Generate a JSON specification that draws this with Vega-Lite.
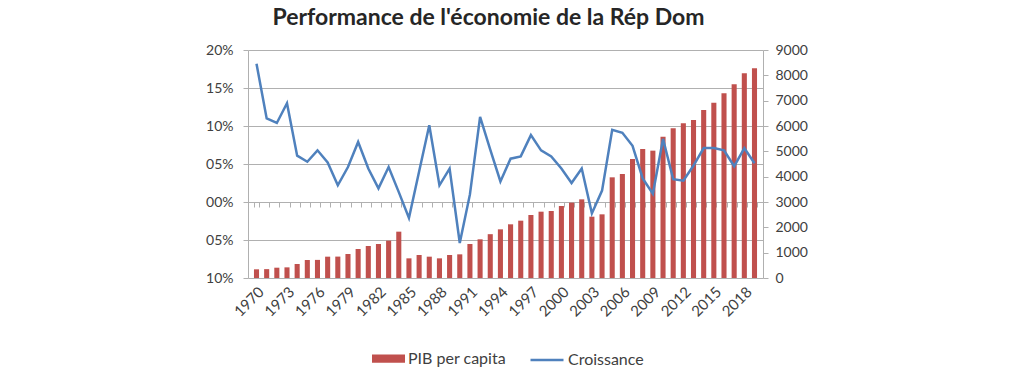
{
  "$schema": "https://vega.github.io/schema/vega-lite/v6.json",
  "width": 515,
  "height": 228,
  "autosize": {"type": "none"},
  "padding": {"left": 248, "top": 50, "right": 261, "bottom": 107},
  "background": "white",
  "title": {
    "text": "Performance de l'économie de la Rép Dom",
    "font": "Lato",
    "fontSize": 23,
    "fontWeight": "bold",
    "color": "#262626",
    "anchor": "middle",
    "dx": -17,
    "offset": 13
  },
  "config": {
    "view": {"stroke": null},
    "font": "Lato",
    "axis": {"labelFont": "Lato", "labelColor": "#404040", "labelFontSize": 14, "domainColor": "#b0b0b0", "tickColor": "#b0b0b0"}
  },
  "data": {
    "values": [
      {"year": 1970, "pib": 343, "growth": 18.2},
      {"year": 1971, "pib": 350, "growth": 11.0},
      {"year": 1972, "pib": 407, "growth": 10.4},
      {"year": 1973, "pib": 420, "growth": 13.0},
      {"year": 1974, "pib": 553, "growth": 6.1},
      {"year": 1975, "pib": 710, "growth": 5.3},
      {"year": 1976, "pib": 715, "growth": 6.8},
      {"year": 1977, "pib": 842, "growth": 5.2},
      {"year": 1978, "pib": 845, "growth": 2.2},
      {"year": 1979, "pib": 947, "growth": 4.6},
      {"year": 1980, "pib": 1145, "growth": 7.9},
      {"year": 1981, "pib": 1263, "growth": 4.4},
      {"year": 1982, "pib": 1342, "growth": 1.8},
      {"year": 1983, "pib": 1474, "growth": 4.6},
      {"year": 1984, "pib": 1829, "growth": 1.3},
      {"year": 1985, "pib": 776, "growth": -2.1},
      {"year": 1986, "pib": 908, "growth": 4.0},
      {"year": 1987, "pib": 842, "growth": 10.1},
      {"year": 1988, "pib": 776, "growth": 2.2},
      {"year": 1989, "pib": 908, "growth": 4.4},
      {"year": 1990, "pib": 934, "growth": -5.4},
      {"year": 1991, "pib": 1342, "growth": 1.0},
      {"year": 1992, "pib": 1527, "growth": 11.2},
      {"year": 1993, "pib": 1730, "growth": 6.9},
      {"year": 1994, "pib": 1921, "growth": 2.7},
      {"year": 1995, "pib": 2119, "growth": 5.7},
      {"year": 1996, "pib": 2263, "growth": 6.0},
      {"year": 1997, "pib": 2487, "growth": 8.8},
      {"year": 1998, "pib": 2618, "growth": 6.8},
      {"year": 1999, "pib": 2645, "growth": 6.0},
      {"year": 2000, "pib": 2842, "growth": 4.4},
      {"year": 2001, "pib": 2974, "growth": 2.5},
      {"year": 2002, "pib": 3105, "growth": 4.4},
      {"year": 2003, "pib": 2421, "growth": -1.5},
      {"year": 2004, "pib": 2513, "growth": 1.5},
      {"year": 2005, "pib": 3974, "growth": 9.5},
      {"year": 2006, "pib": 4105, "growth": 9.1},
      {"year": 2007, "pib": 4698, "growth": 7.4},
      {"year": 2008, "pib": 5093, "growth": 3.1},
      {"year": 2009, "pib": 5027, "growth": 1.1},
      {"year": 2010, "pib": 5579, "growth": 8.3},
      {"year": 2011, "pib": 5908, "growth": 3.0},
      {"year": 2012, "pib": 6106, "growth": 2.8},
      {"year": 2013, "pib": 6237, "growth": 4.8},
      {"year": 2014, "pib": 6632, "growth": 7.1},
      {"year": 2015, "pib": 6921, "growth": 7.1},
      {"year": 2016, "pib": 7292, "growth": 6.8},
      {"year": 2017, "pib": 7647, "growth": 4.7},
      {"year": 2018, "pib": 8081, "growth": 7.1},
      {"year": 2019, "pib": 8279, "growth": 5.1}
    ]
  },
  "layer": [
    {
      "mark": {"type": "bar"},
      "encoding": {
        "x": {
          "field": "year",
          "type": "ordinal",
          "scale": {"paddingInner": 0.5, "paddingOuter": 0.587},
          "axis": {
            "orient": "bottom",
            "values": [1970, 1973, 1976, 1979, 1982, 1985, 1988, 1991, 1994, 1997, 2000, 2003, 2006, 2009, 2012, 2015, 2018],
            "labelAngle": -45,
            "labelFontSize": 15,
            "ticks": false,
            "domain": false,
            "title": null,
            "labelPadding": 6
          }
        },
        "y": {
          "field": "pib",
          "type": "quantitative",
          "scale": {"domain": [0, 9000], "nice": false},
          "axis": {
            "orient": "right",
            "title": null,
            "grid": false,
            "domain": true,
            "ticks": true,
            "tickSize": 5,
            "values": [0, 1000, 2000, 3000, 4000, 5000, 6000, 7000, 8000, 9000],
            "format": "d",
            "labelPadding": 7
          }
        },
        "fill": {
          "datum": "PIB per capita",
          "scale": {"domain": ["PIB per capita"], "range": ["#C0504D"]},
          "legend": {
            "title": null,
            "orient": "none",
            "legendX": 124,
            "legendY": 292,
            "symbolType": "M-1,-0.25H1V0.25H-1Z",
            "symbolSize": 1089,
            "symbolStrokeWidth": 0,
            "labelFontSize": 16,
            "labelColor": "#404040",
            "labelOffset": 3
          }
        }
      }
    },
    {
      "mark": {"type": "line", "strokeWidth": 2.5},
      "encoding": {
        "x": {
          "field": "year",
          "type": "ordinal",
          "axis": {
            "orient": "top",
            "offset": -152,
            "labels": false,
            "domain": false,
            "ticks": true,
            "tickBand": "extent",
            "tickSize": -5,
            "title": null
          }
        },
        "y": {
          "field": "growth",
          "type": "quantitative",
          "scale": {"domain": [-10, 20], "nice": false},
          "axis": {
            "orient": "left",
            "title": null,
            "grid": true,
            "gridColor": "#b0b0b0",
            "domain": true,
            "ticks": true,
            "tickSize": 5,
            "values": [-10, -5, 0, 5, 10, 15, 20],
            "labelExpr": "(abs(datum.value) < 10 ? '0' : '') + abs(datum.value) + '%'",
            "labelPadding": 10
          }
        },
        "stroke": {
          "datum": "Croissance",
          "scale": {"domain": ["Croissance"], "range": ["#4F81BD"]},
          "legend": {
            "title": null,
            "orient": "none",
            "legendX": 281,
            "legendY": 292,
            "symbolType": "stroke",
            "symbolSize": 1089,
            "symbolStrokeWidth": 2.5,
            "labelFontSize": 16,
            "labelColor": "#404040",
            "labelOffset": 3
          }
        }
      }
    }
  ],
  "resolve": {"scale": {"y": "independent"}}
}
